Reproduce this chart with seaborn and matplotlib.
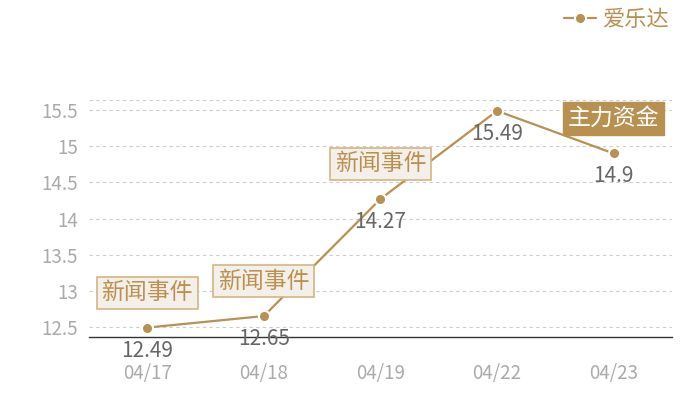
import pandas as pd
import seaborn as sns
import matplotlib.pyplot as plt

# Datos
dates = ["04/17", "04/18", "04/19", "04/22", "04/23"]
prices = [12.49, 12.65, 14.27, 15.49, 14.9]
series_name = "爱乐达"
events = {"04/17": "新闻事件", "04/18": "新闻事件", "04/19": "新闻事件", "04/23": "主力资金"}
yticks = [12.5, 13, 13.5, 14, 14.5, 15, 15.5]
ytick_labels = ["12.5", "13", "13.5", "14", "14.5", "15", "15.5"]

df = pd.DataFrame({"date": dates, "price": prices})

sns.set_theme(style="white")
plt.rcParams["font.family"] = ["Noto Sans CJK SC", "DejaVu Sans"]

gold = "#b8904f"
fig = plt.figure(figsize=(7, 4), dpi=100)
ax = fig.add_axes([0.127, 0.1575, 0.833, 0.5925])

sns.lineplot(data=df, x="date", y="price", ax=ax, color=gold, lw=1.6,
             marker="o", markersize=8, markeredgecolor="white", markeredgewidth=1.5,
             label=series_name, sort=False)

ax.set_xlim(-0.5, len(dates) - 0.5)
ax.set_ylim(12.36, 15.64)
ax.set_yticks(yticks)
ax.set_yticklabels(ytick_labels)
ax.grid(axis="y", color="#cccccc", ls=(0, (3, 3)), lw=0.8)
ax.axhline(15.64, color="#cccccc", ls=(0, (3, 3)), lw=0.8)
for s in ["left", "right", "top"]:
    ax.spines[s].set_visible(False)
ax.spines["bottom"].set_color("#333333")
ax.spines["bottom"].set_linewidth(1)
ax.tick_params(axis="both", length=0, colors="#aaaaaa", labelsize=13.5, pad=8)
ax.tick_params(axis="x", pad=19)
ax.set_xlabel("")
ax.set_ylabel("")

# Etiquetas de valores
for i, v in enumerate(prices):
    ax.annotate(f"{v:g}", (i, v), xytext=(0, -23), textcoords="offset pixels",
                ha="center", va="center", fontsize=15, color="#666666")

# Eventos
for d, txt in events.items():
    i = dates.index(d)
    if txt == "主力资金":
        box = dict(boxstyle="square,pad=0.2", fc=gold, ec=gold)
        tc = "white"
    else:
        box = dict(boxstyle="square,pad=0.2", fc="#f4efe8", ec="#d3b584", lw=1.2)
        tc = gold
    ax.annotate(txt, (i, prices[i]), xytext=(0, 35), textcoords="offset pixels",
                ha="center", va="center", fontsize=16.5, color=tc, bbox=box)

leg = ax.legend(loc="upper right", bbox_to_anchor=(1.01, 1.425), frameon=False,
                fontsize=16, handlelength=1.4, handletextpad=0.3, borderaxespad=0)
for t in leg.get_texts():
    t.set_color(gold)

fig.savefig("out.png", dpi=100)
